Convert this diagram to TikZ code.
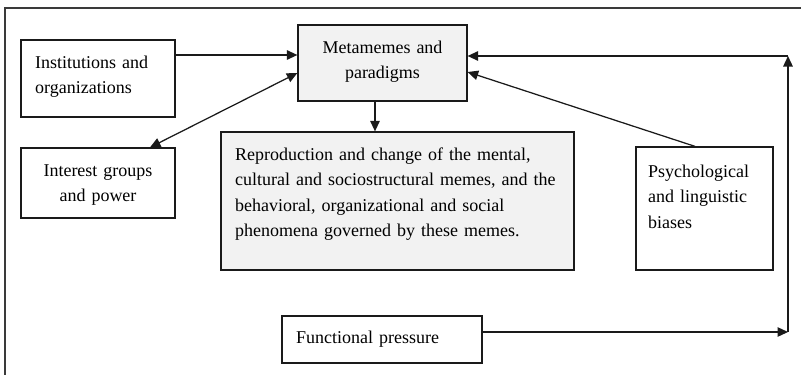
\documentclass[tikz,border=0pt]{standalone}
\usepackage{fontspec}
\setmainfont{Liberation Serif}
\usetikzlibrary{arrows.meta}

\definecolor{lineclr}{HTML}{1A1A1A}
\definecolor{framegray}{HTML}{3A3A3A}
\definecolor{boxfill}{HTML}{F2F2F2}

\begin{document}
\begin{tikzpicture}[x=1pt,y=-1pt,
  box/.style={draw=lineclr, line width=1.25pt, rectangle, inner sep=0pt},
  shaded/.style={box, fill=boxfill},
  lbl/.style={font=\fontsize{18}{25.5}\selectfont, inner sep=0pt},
  tip/.style={Triangle[length=10.5pt,width=9.5pt]},
  arr/.style={draw=lineclr, line width=1.25pt, -{Triangle[length=10.5pt,width=9.5pt]}},
  dblarr/.style={draw=lineclr, line width=1.25pt, {Triangle[length=10.5pt,width=9.5pt]}-{Triangle[length=10.5pt,width=9.5pt]}},
]
\useasboundingbox (0,0) rectangle (801,375);
\clip (0,0) rectangle (801,375);

% outer frame (runs past the right and bottom edges)
\draw[line width=1.25pt, draw=framegray] (5,8) rectangle (808,382);

% boxes
\node[box, minimum width=154pt, minimum height=77pt] (inst) at (98,78.5) {};
\node[shaded, minimum width=169pt, minimum height=76pt] (meta) at (382.5,63) {};
\node[box, minimum width=154pt, minimum height=70pt] (int) at (98,183) {};
\node[shaded, minimum width=353pt, minimum height=138pt] (repro) at (397.5,201) {};
\node[box, minimum width=137pt, minimum height=123pt] (psych) at (704.5,208.5) {};
\node[box, minimum width=200pt, minimum height=47pt] (func) at (382,339.5) {};

% texts
\node[lbl, anchor=base west, text width=140pt, align=left] (inst-t) at (35,68)
  {Institutions and\\organizations};
\node[lbl, anchor=base, text width=160pt, align=center] (meta-t) at (382.5,53)
  {Metamemes and\\paradigms};
\node[lbl, anchor=base, text width=150pt, align=center] (int-t) at (98,176)
  {Interest groups\\and power};
\node[lbl, anchor=base west, text width=340pt, align=left] (repro-t) at (235,160)
  {Reproduction and change of the mental,\\cultural and sociostructural memes, and the\\behavioral, organizational and social\\phenomena governed by these memes.};
\node[lbl, anchor=base west, text width=125pt, align=left] (psych-t) at (648,177)
  {Psychological\\and linguistic\\biases};
\node[lbl, anchor=base west, text width=180pt, align=left] (func-t) at (296,343)
  {Functional pressure};

% loop corners on the right
\coordinate (cb) at (788,332);
\coordinate (ct) at (788,56);

% connectors
\draw[arr] ([yshift=23.5pt]inst.east) -- ([yshift=23.5pt]inst.east -| meta.west);
\draw[dblarr] ([xshift=52pt]int.north) -- ([yshift=-10pt]meta.west);
\draw[arr] ([xshift=-7.5pt]meta.south) -- ([xshift=-7.5pt]meta.south |- repro.north);
\draw[arr] ([xshift=-9.5pt]psych.north) -- ([yshift=-9pt]meta.east);
\draw[arr] (func.east |- cb) -- (cb);
\draw[arr] (cb) -- (ct);
\draw[arr] (ct) -- (ct -| meta.east);
\end{tikzpicture}
\end{document}
